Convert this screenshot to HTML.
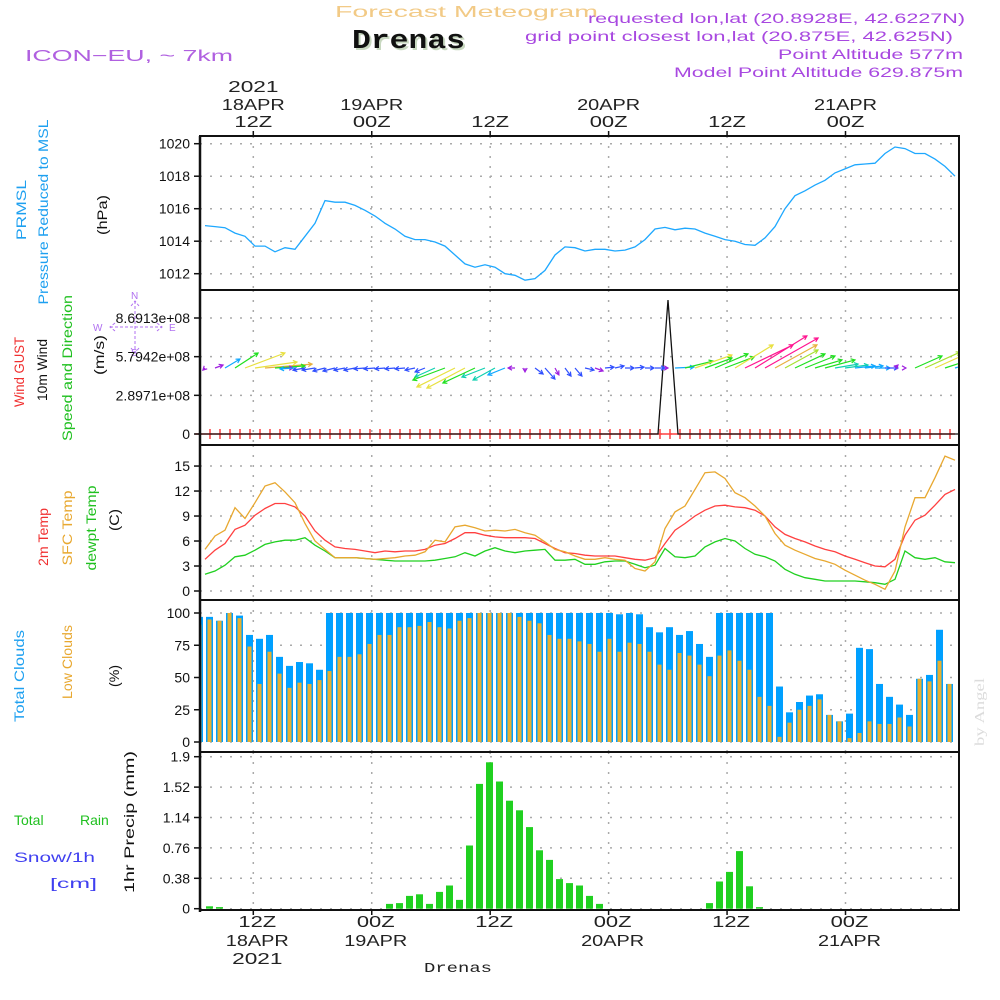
<!DOCTYPE html>
<html><head><meta charset="utf-8">
<style>
html,body{margin:0;padding:0;background:#fff;}
svg{display:block;font-family:"Liberation Sans",sans-serif;}
text{font-family:"Liberation Sans",sans-serif;}
</style></head>
<body>
<svg id="chart" width="1000" height="1000" viewBox="0 0 1000 1000" xmlns="http://www.w3.org/2000/svg">
<defs><clipPath id="windClip"><rect x="201" y="291" width="757" height="153"/></clipPath></defs>
<rect x="0" y="0" width="1000" height="1000" fill="#fff"/>
<g id="grid"></g>
<g id="marks"></g>
<g id="windg" clip-path="url(#windClip)"></g>
<g id="frame"></g>
<g id="labels">
  <text x="335" y="17" font-size="16" fill="#f2ca86" textLength="263" lengthAdjust="spacingAndGlyphs">Forecast Meteogram</text>
  <text x="354" y="50" font-size="27" font-weight="bold" fill="#c8d8c0" style="font-family:'Liberation Mono',monospace" textLength="113" lengthAdjust="spacingAndGlyphs">Drenas</text>
  <text x="352" y="48" font-size="27" font-weight="bold" fill="#111" style="font-family:'Liberation Mono',monospace" textLength="113" lengthAdjust="spacingAndGlyphs">Drenas</text>
  <text x="25" y="61" font-size="16" fill="#b060e0" textLength="208" lengthAdjust="spacingAndGlyphs">ICON−EU, ~ 7km</text>
  <text x="965" y="23" font-size="14" fill="#a848e0" text-anchor="end" textLength="377" lengthAdjust="spacingAndGlyphs">requested lon,lat (20.8928E, 42.6227N)</text>
  <text x="953" y="41" font-size="14" fill="#a848e0" text-anchor="end" textLength="428" lengthAdjust="spacingAndGlyphs">grid point closest lon,lat (20.875E, 42.625N)</text>
  <text x="963" y="59" font-size="14" fill="#a848e0" text-anchor="end" textLength="185" lengthAdjust="spacingAndGlyphs">Point Altitude 577m</text>
  <text x="963" y="77" font-size="14" fill="#a848e0" text-anchor="end" textLength="289" lengthAdjust="spacingAndGlyphs">Model Point Altitude 629.875m</text>
  <text x="424" y="972" font-size="14" fill="#222" style="font-family:'Liberation Mono',monospace" textLength="68" lengthAdjust="spacingAndGlyphs">Drenas</text>

  <g font-size="14">
  <text transform="translate(26,210) rotate(-90)" text-anchor="middle" fill="#1ea0f0" textLength="60" lengthAdjust="spacingAndGlyphs">PRMSL</text>
  <text transform="translate(48,212) rotate(-90)" text-anchor="middle" fill="#1ea0f0" textLength="185" lengthAdjust="spacingAndGlyphs">Pressure Reduced to MSL</text>
  <text transform="translate(107,215) rotate(-90)" text-anchor="middle" fill="#111" textLength="40" lengthAdjust="spacingAndGlyphs">(hPa)</text>
  <text transform="translate(24,372) rotate(-90)" text-anchor="middle" fill="#f03030" textLength="70" lengthAdjust="spacingAndGlyphs">Wind GUST</text>
  <text transform="translate(47,370) rotate(-90)" text-anchor="middle" fill="#111" textLength="62" lengthAdjust="spacingAndGlyphs">10m Wind</text>
  <text transform="translate(72,368) rotate(-90)" text-anchor="middle" fill="#20c020" textLength="146" lengthAdjust="spacingAndGlyphs">Speed and Direction</text>
  <text transform="translate(104,355) rotate(-90)" text-anchor="middle" fill="#111" textLength="40" lengthAdjust="spacingAndGlyphs">(m/s)</text>
  <text transform="translate(48,537) rotate(-90)" text-anchor="middle" fill="#f03030" textLength="58" lengthAdjust="spacingAndGlyphs">2m Temp</text>
  <text transform="translate(72,528) rotate(-90)" text-anchor="middle" fill="#e8a830" textLength="75" lengthAdjust="spacingAndGlyphs">SFC Temp</text>
  <text transform="translate(96,528) rotate(-90)" text-anchor="middle" fill="#20c020" textLength="85" lengthAdjust="spacingAndGlyphs">dewpt Temp</text>
  <text transform="translate(119,520) rotate(-90)" text-anchor="middle" fill="#111" textLength="22" lengthAdjust="spacingAndGlyphs">(C)</text>
  <text transform="translate(24,676) rotate(-90)" text-anchor="middle" fill="#1ea0f0" textLength="92" lengthAdjust="spacingAndGlyphs">Total Clouds</text>
  <text transform="translate(72,662) rotate(-90)" text-anchor="middle" fill="#e8a830" textLength="74" lengthAdjust="spacingAndGlyphs">Low Clouds</text>
  <text transform="translate(119,676) rotate(-90)" text-anchor="middle" fill="#111" textLength="22" lengthAdjust="spacingAndGlyphs">(%)</text>
  <text transform="translate(134,822) rotate(-90)" text-anchor="middle" fill="#111" textLength="142" lengthAdjust="spacingAndGlyphs">1hr Precip (mm)</text>
  <text x="14" y="825" fill="#20c020">Total</text>
  <text x="80" y="825" fill="#20c020">Rain</text>
  <text x="14" y="862" fill="#4040f0" textLength="81" lengthAdjust="spacingAndGlyphs">Snow/1h</text>
  <text x="50" y="888" fill="#4040f0" textLength="47" lengthAdjust="spacingAndGlyphs">[cm]</text>
  <text transform="translate(984,712) rotate(-90)" text-anchor="middle" fill="#dcdcdc" style="font-family:'Liberation Serif',serif" textLength="68" lengthAdjust="spacingAndGlyphs">by Angel</text>
  </g>
  <g fill="#b070f0" font-size="10" stroke="none">
    <text x="131" y="299">N</text><text x="93" y="331">W</text><text x="169" y="331">E</text><text x="131" y="356">S</text>
    <path d="M135 301 V353 M110 327 H162 M131 306 L135 301 L139 306 M131 348 L135 353 L139 348 M115 323 L110 327 L115 331 M157 323 L162 327 L157 331" stroke="#b070f0" stroke-dasharray="3,2" fill="none"/>
  </g>
</g>
<g id="ticks"></g>
</svg>
<script>
// ---------- data ----------
const pressure = [1014.96,1014.9,1014.83,1014.5,1014.3,1013.7,1013.7,1013.35,1013.6,1013.5,1014.3,1015.1,1016.5,1016.4,1016.4,1016.2,1015.9,1015.55,1015.1,1014.75,1014.3,1014.1,1014.1,1013.95,1013.7,1013.15,1012.6,1012.4,1012.55,1012.4,1012.0,1011.9,1011.6,1011.7,1012.2,1013.15,1013.65,1013.6,1013.4,1013.5,1013.5,1013.4,1013.45,1013.65,1014.1,1014.75,1014.85,1014.7,1014.8,1014.75,1014.5,1014.3,1014.1,1014.0,1013.8,1013.75,1014.2,1014.9,1016.0,1016.8,1017.1,1017.45,1017.75,1018.2,1018.45,1018.7,1018.75,1018.8,1019.4,1019.8,1019.7,1019.4,1019.4,1019.05,1018.6,1018.0];
const temp2m = [3.8,4.9,5.7,7.4,7.9,9.1,9.9,10.5,10.5,10.1,9.0,7.2,6.1,5.3,5.1,5.0,4.8,4.6,4.8,4.7,4.8,4.8,5.0,5.5,5.7,6.3,7.0,7.0,6.7,6.5,6.4,6.4,6.4,6.3,5.7,5.1,4.6,4.5,4.3,4.2,4.2,4.2,4.0,3.8,3.7,4.0,5.7,7.3,8.1,9.0,9.7,10.2,10.3,10.1,10.0,9.7,9.0,7.7,6.8,6.3,5.9,5.4,5.0,4.7,4.2,3.8,3.4,3.0,2.9,3.8,6.7,8.5,9.1,10.3,11.6,12.2];
const tempSfc = [5.0,6.6,7.3,10.0,8.7,10.6,12.6,13.0,11.9,10.6,8.1,6.0,5.0,4.0,4.0,4.0,3.9,3.8,3.9,4.0,4.2,4.3,4.7,6.1,5.9,7.7,7.9,7.6,7.2,7.3,7.2,7.4,7.0,6.7,5.9,5.0,4.7,4.2,3.8,3.8,4.0,3.8,3.7,2.7,2.4,3.5,7.5,9.5,10.2,12.2,14.2,14.3,13.5,11.8,11.2,10.2,9.0,6.9,5.5,4.9,4.4,3.9,3.6,3.2,2.5,1.9,1.3,0.8,0.2,2.4,7.7,11.2,11.2,13.6,16.2,15.7];
const dewpt = [2.0,2.4,3.1,4.1,4.3,4.9,5.6,5.9,6.1,6.1,6.4,5.5,4.8,4.0,4.0,4.0,3.9,3.8,3.7,3.6,3.6,3.6,3.6,3.7,3.9,4.1,4.6,4.2,4.8,5.2,4.8,4.6,4.8,4.9,5.0,3.7,3.7,3.8,3.2,3.2,3.5,3.6,3.6,3.2,2.8,3.1,5.1,4.1,4.0,4.2,5.3,5.9,6.3,6.0,5.1,4.4,4.1,3.6,2.6,2.0,1.6,1.4,1.2,1.2,1.2,1.2,1.1,1.0,0.8,1.4,4.8,4.0,3.8,4.0,3.5,3.4];
const totalClouds = [97,97,94,100,98,83,80,83,66,59,62,61,56,100,100,100,100,100,100,100,100,100,100,100,100,100,100,100,100,100,100,100,100,100,100,100,100,100,100,100,100,100,99,100,99,89,85,89,83,86,76,66,100,100,100,100,100,100,43,23,31,36,37,21,16,22,73,72,45,35,29,21,49,52,87,45,58];
const lowClouds = [91,95,94,100,96,74,45,70,53,42,46,45,48,55,66,66,68,76,83,83,89,89,90,93,89,88,94,96,100,100,100,100,97,94,92,83,80,80,78,76,70,80,70,77,76,70,60,56,69,67,60,51,67,71,63,56,35,28,4,15,25,28,33,21,16,3,7,16,14,14,19,12,49,47,63,45,52];
const precip = [0,0.03,0.02,0,0,0,0,0,0,0,0,0,0,0,0,0,0,0,0,0.06,0.07,0.16,0.18,0.06,0.21,0.29,0.11,0.79,1.56,1.83,1.59,1.35,1.23,1.02,0.73,0.61,0.37,0.32,0.29,0.16,0.06,0,0,0,0,0,0,0,0,0,0,0.07,0.34,0.46,0.72,0.28,0.02,0,0,0,0,0,0,0,0,0,0,0,0,0,0,0,0,0,0,0,0];
const gust = [0,0,0,0,0,0,0,0,0,0,0,0,0,0,0,0,0,0,0,0,0,0,0,0,0,0,0,0,0,0,0,0,0,0,0,0,0,0,0,0,0,0,0,0,0,0,0,1.004e9,0,0,0,0,0,0,0,0,0,0,0,0,0,0,0,0,0,0,0,0,0,0,0,0,0,0,0,0,0];
const windU = [-0.7,2.7,5.0,7.7,13.3,14.0,15.7,10.0,2.7,-5.0,-4.0,-4.3,-4.0,-4.0,-3.7,-3.7,-3.7,-3.7,-3.3,-3.3,-3.3,-3.3,-3.3,-6.7,-10.7,-12.7,-12.7,-10.7,-7.7,-7.3,-5.7,-2.3,0,2.7,3.3,1.3,2.0,2.3,3.0,2.7,3.0,3.0,3.0,3.0,3.0,3.3,1.0,6.3,9.3,12.3,9.0,11.0,9.7,12.7,16.0,17.3,17.7,14.0,11.0,10.0,10.0,9.0,10.0,7.7,7.7,6.7,6.0,5.0,4.3,1.0,0.3,9.0,11.7,13.3,10.0,6.7];
const windV = [-0.7,1.0,3.0,5.0,5.0,2.0,1.3,0.7,0,-0.3,-0.7,-0.7,-1.0,-1.0,-0.7,-0.7,-0.3,-0.3,-0.3,-0.3,-0.3,-0.7,-1.3,-3.0,-4.0,-6.3,-6.7,-5.0,-3.0,-4.0,-2.3,0,-1.3,-2.0,-3.7,-2.3,-2.7,-2.7,-0.7,-1.0,0.3,0.7,0,0.3,0,0,0,0.3,2.3,4.3,3.3,4.7,3.7,7.7,7.7,10.7,10.0,7.7,6.0,4.7,4.0,2.7,2.7,1.3,1.0,0.7,0.7,0,0,1.0,0,4.0,5.3,6.0,3.3,2.0];
const pressureTicks = [1012,1014,1016,1018,1020];
const windTicks = [0,2.8971e8,5.7942e8,8.6913e8];
const windTickLabels = ["0","2.8971e+08","5.7942e+08","8.6913e+08"];
const tempTicks = [0,3,6,9,12,15];
const cloudTicks = [0,25,50,75,100];
const precipTicks = [0,0.38,0.76,1.14,1.52,1.9];
const timeHours = [12,24,36,48,60,72];
const topLabels = [["2021","18APR","12Z"],["","19APR","00Z"],["","","12Z"],["","20APR","00Z"],["","","12Z"],["","21APR","00Z"]];
const bottomLabels = [["12Z","18APR","2021"],["00Z","19APR",""],["12Z","",""],["00Z","20APR",""],["12Z","",""],["00Z","21APR",""]];

// ---------- scales ----------
const X0=200, X1=959;
const xLine = i => 205 + 10*i;
const xBar = i => 199.5 + 10*i;
const xGust = i => 198 + 10*i;
const xTime = h => 253.3 + (h-12)*9.87;
const yP = p => 273.7 - (p-1012)*16.25;
const yW = v => 434 - v/8.6913e8*116;
const yT = t => 591 - t*8.33;
const yC = c => 742 - c*1.29;
const yR = r => 908.7 - r*80;
const WIND_BASE = 368, WIND_SCALE = 3;

const NS="http://www.w3.org/2000/svg";
const grid=document.getElementById('grid'), marks=document.getElementById('marks'), windg=document.getElementById('windg'), frame=document.getElementById('frame'), ticksG=document.getElementById('ticks');
function mk(tag, attrs, parent){const e=document.createElementNS(NS,tag);for(const k in attrs)e.setAttribute(k,attrs[k]);parent.appendChild(e);return e;}

const panels=[{top:136,bot:290},{top:290,bot:445},{top:445,bot:600},{top:600,bot:752},{top:752,bot:910}];
timeHours.forEach(h=>{
  panels.forEach(p=>{
    const l=mk('line',{x1:xTime(h),x2:xTime(h),y1:p.top,y2:p.bot,stroke:'#aaa','stroke-width':1.5,'stroke-dasharray':'2,8'},grid);
    
    
  });
});
function hgrid(vals, sc, labels){
  vals.forEach((v,i)=>{
    const y=sc(v);
    const l=mk('line',{x1:X0,x2:X1,y1:y,y2:y,stroke:'#aaa','stroke-width':1.5,'stroke-dasharray':'2,8'},grid);
    
    
    const t=mk('line',{x1:194,x2:X0,y1:y,y2:y,stroke:'#111','stroke-width':1.5},frame);
    
    
    const tx=mk('text',{x:190,y:y+5,'font-size':14,'text-anchor':'end',fill:'#111'},ticksG);
    tx.textContent=labels?labels[i]:String(v);
    
    
  });
}
hgrid(pressureTicks,yP);
hgrid(windTicks,yW,windTickLabels);
hgrid(tempTicks,yT);
hgrid(cloudTicks,yC);
hgrid(precipTicks,yR);

totalClouds.forEach((c,i)=>{
  const x=xBar(i);
  if(x>X1) return;
  const r=mk('rect',{x:Math.max(x-3.5,X0),y:yC(c),width:Math.min(x+3.5,X1)-Math.max(x-3.5,X0),height:yC(0)-yC(c),fill:'#00a0ff'},marks);
  
  
});
lowClouds.forEach((c,i)=>{
  const x=xBar(i);
  if(x>X1) return;
  const r=mk('rect',{x:Math.max(x-2,X0),y:yC(c),width:Math.min(x+2,X1)-Math.max(x-2,X0),height:yC(0)-yC(c),fill:'#e8b030'},marks);
  
  
});
precip.forEach((v,i)=>{
  if(v<=0) return;
  const x=xBar(i);
  const r=mk('rect',{x:Math.max(x-3.5,X0+1),y:yR(v),width:7,height:yR(0)-yR(v),fill:'#20d020'},marks);
  
  
});
function polyline(arr, sx, sy, color, name){
  const pts=arr.map((v,i)=>sx(i).toFixed(1)+','+sy(v).toFixed(1)).join(' ');
  const p=mk('polyline',{points:pts,fill:'none',stroke:color,'stroke-width':1.3},marks);
  
  
}
polyline(pressure,xLine,yP,'#1ea8ff','pressure-line');
polyline(dewpt,xLine,yT,'#20d020','dewpoint-line');
polyline(temp2m,xLine,yT,'#ff4040','temp-2m-line');
polyline(tempSfc,xLine,yT,'#e8a830','sfc-temp-line');
for(let i=0;i<77;i++){
  const x=200+10*i; if(x>X1) break;
  const p=mk('path',{d:`M${x-5} 434 H${x+5} M${x} 429 V439`,stroke:'#ff4040','stroke-width':1.5},marks);
  
  
}
polyline(gust,xGust,yW,'#111','gust-line');
function wcolor(s){
  if(s<3) return '#a020e0';
  if(s<5) return '#3050ff';
  if(s<7) return '#10a8ff';
  if(s<9) return '#10d0b0';
  if(s<12) return '#20e020';
  if(s<13) return '#a8e030';
  if(s<15) return '#e8e040';
  if(s<17) return '#e8b040';
  return '#ff1490';
}
windU.forEach((u,i)=>{
  const v=windV[i];
  const x0=xLine(i), y0=WIND_BASE;
  const x1=x0+u*WIND_SCALE, y1=y0-v*WIND_SCALE;
  const s=Math.hypot(u,v);
  const ang=Math.atan2(y1-y0,x1-x0);
  const hl=4.5;
  const a1=ang+Math.PI-0.5, a2=ang+Math.PI+0.5;
  const d=`M${x0} ${y0} L${x1.toFixed(1)} ${y1.toFixed(1)} M${(x1+hl*Math.cos(a1)).toFixed(1)} ${(y1+hl*Math.sin(a1)).toFixed(1)} L${x1.toFixed(1)} ${y1.toFixed(1)} L${(x1+hl*Math.cos(a2)).toFixed(1)} ${(y1+hl*Math.sin(a2)).toFixed(1)}`;
  const p=mk('path',{d:d,stroke:wcolor(s),'stroke-width':1.2,fill:'none'},windg);
  
  
});
panels.forEach(p=>{
  const r=mk('rect',{x:X0,y:p.top,width:X1-X0,height:p.bot-p.top,fill:'none',stroke:'#111','stroke-width':2},frame);
  
  
});
const ax=mk('line',{x1:X0,x2:X0,y1:136,y2:912,stroke:'#111','stroke-width':2.5},frame);


timeHours.forEach((h,i)=>{
  const x=xTime(h);
  const t=mk('line',{x1:x,x2:x,y1:131,y2:136,stroke:'#111','stroke-width':1.5},frame);
  
  
  const b=mk('line',{x1:x,x2:x,y1:910,y2:915,stroke:'#111','stroke-width':1.5},frame);
  
  
  [92,110,127].forEach((y,j)=>{
    const s=topLabels[i][j]; if(!s) return;
    const tx=mk('text',{x:x,y:y,'font-size':16,'text-anchor':'middle',fill:'#222',textLength:s.length*12.6,lengthAdjust:'spacingAndGlyphs'},ticksG);
    tx.textContent=s;
    
    
  });
  [927,946,964].forEach((y,j)=>{
    const s=bottomLabels[i][j]; if(!s) return;
    const tx=mk('text',{x:x+4,y:y,'font-size':16,'text-anchor':'middle',fill:'#222',textLength:s.length*12.6,lengthAdjust:'spacingAndGlyphs'},ticksG);
    tx.textContent=s;
    
    
  });
});
</script>
</body></html>
